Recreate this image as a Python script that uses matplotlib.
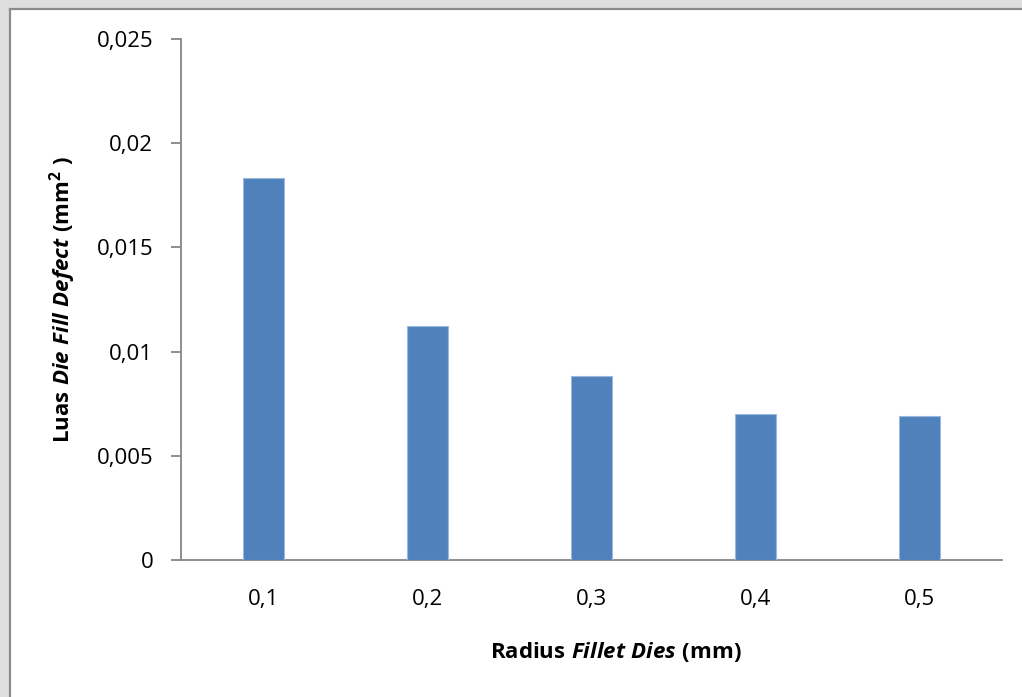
import matplotlib
matplotlib.use("Agg")
import matplotlib.pyplot as plt
from matplotlib.patches import Rectangle
from matplotlib.ticker import FuncFormatter

# Die fill defect area against fillet radius of the dies
radius_labels = ["0,1", "0,2", "0,3", "0,4", "0,5"]
defect_area = [0.01833, 0.01121, 0.00881, 0.00702, 0.00691]
y_ticks = [0, 0.005, 0.01, 0.015, 0.02, 0.025]

BAR = "#4F81BD"
AXIS = "#868686"

plt.rcParams["font.family"] = ["Open Sans", "DejaVu Sans"]
plt.rcParams["mathtext.fontset"] = "custom"
plt.rcParams["mathtext.rm"] = "Open Sans"
plt.rcParams["mathtext.it"] = "Open Sans:italic"
plt.rcParams["mathtext.bf"] = "Open Sans:bold"
plt.rcParams["mathtext.bfit"] = "Open Sans:italic:bold"

W, H = 1022, 697
fig = plt.figure(figsize=(W / 100, H / 100), dpi=100, facecolor="#dedede")

# chart frame (only its left and top edges fall inside the image)
fig.patches.append(Rectangle((10 / W, -0.05), 1.1, 1 - 9 / H + 0.05,
                             transform=fig.transFigure, facecolor="white",
                             edgecolor="#8c8c8c", linewidth=1.6, zorder=-1))

ax = fig.add_axes([181 / W, 1 - 560 / H, (1002 - 181) / W, (560 - 39) / H])
ax.set_zorder(2)
ax.set_facecolor("none")

x = range(len(radius_labels))
ax.bar(x, defect_area, width=0.25, color=BAR, edgecolor="#9db8dc",
       linewidth=0.8, zorder=3)

ax.set_xlim(-0.5, len(radius_labels) - 0.5)
ax.set_ylim(0, 0.025)
ax.set_yticks(y_ticks)
ax.yaxis.set_major_formatter(
    FuncFormatter(lambda v, _: ("%g" % v).replace(".", ",")))
ax.set_xticks(list(x))
ax.set_xticklabels(radius_labels)

for s in ("top", "right"):
    ax.spines[s].set_visible(False)
for s in ("left", "bottom"):
    ax.spines[s].set_color(AXIS)
    ax.spines[s].set_linewidth(1.3)

ax.tick_params(axis="y", length=7, width=1.3, color=AXIS, pad=13,
               labelsize=16, labelcolor="black")
ax.tick_params(axis="x", length=0, pad=21, labelsize=16, labelcolor="black")

fig.text(616 / W, 1 - 652 / H,
         r"$\mathbf{Radius}\ \mathbfit{Fillet\ Dies}\ \mathbf{(mm)}$",
         ha="center", va="center", fontsize=16, zorder=3)
fig.text(63 / W, 1 - 299 / H,
         r"$\mathbf{Luas}\ \mathbfit{Die\ Fill\ Defect}\ \mathbf{(mm^{2}\ )}$",
         ha="center", va="center", rotation=90, fontsize=16, zorder=3)

fig.savefig("out.png", dpi=100, facecolor=fig.get_facecolor())
